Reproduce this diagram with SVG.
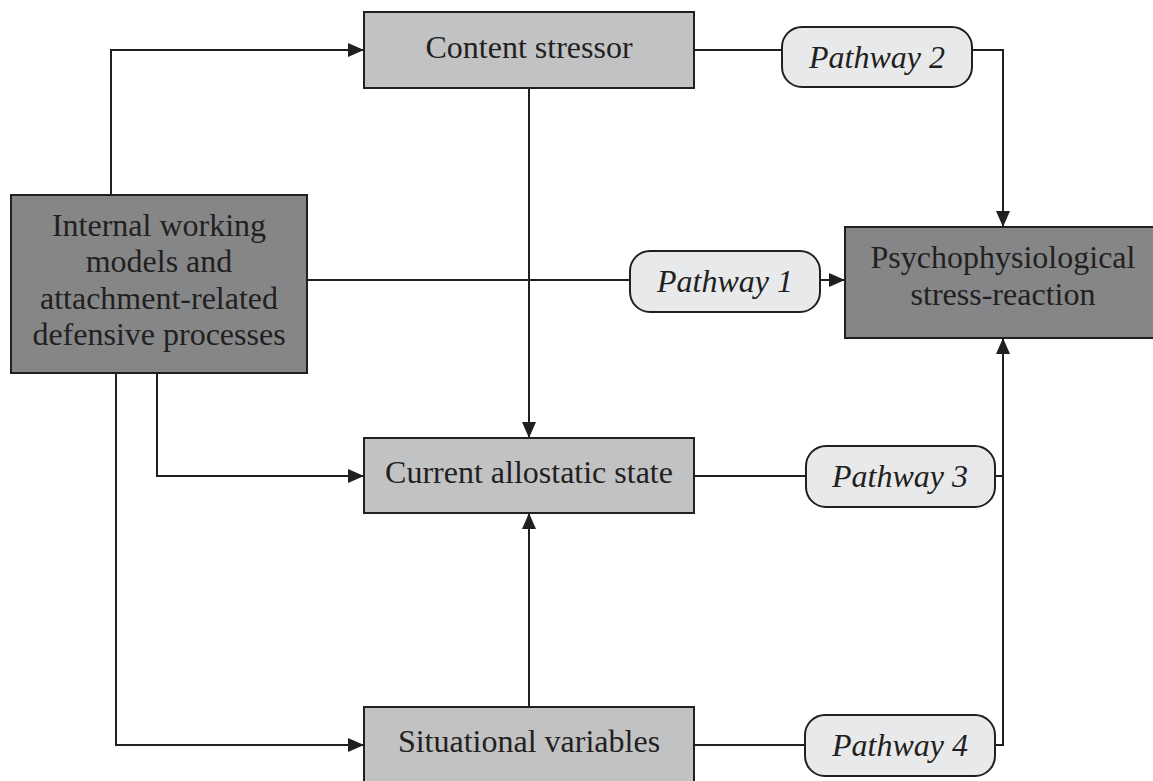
<svg xmlns="http://www.w3.org/2000/svg" width="1153" height="781" viewBox="0 0 1153 781">
<style>
.box{stroke:#231f20;stroke-width:2}
.light{fill:#c1c2c4}
.dark{fill:#858688}
.pill{fill:#e8e9eb;stroke:#231f20;stroke-width:2}
.t{font-family:"Liberation Serif","Times New Roman",serif;font-size:32px;fill:#231f20;text-anchor:middle}
.i{font-style:italic}
.c{fill:none;stroke:#231f20;stroke-width:2}
</style>
<defs>
<marker id="ah" viewBox="0 0 16 14" refX="16" refY="7" markerWidth="16" markerHeight="14" markerUnits="userSpaceOnUse" orient="auto">
<path d="M0,0 L16,7 L0,14 Z" fill="#231f20"/>
</marker>
</defs>
<rect width="1153" height="781" fill="#ffffff"/>
<g id="connectors">
<path class="c" d="M111,195 V50 H364" marker-end="url(#ah)"/>
<path class="c" d="M694,50 H782"/>
<path class="c" d="M972,50 H1003 V227" marker-end="url(#ah)"/>
<path class="c" d="M307,280 H630"/>
<path class="c" d="M820,280 H845" marker-end="url(#ah)"/>
<path class="c" d="M529,88 V438" marker-end="url(#ah)"/>
<path class="c" d="M157,373 V476 H364" marker-end="url(#ah)"/>
<path class="c" d="M116,373 V745 H364" marker-end="url(#ah)"/>
<path class="c" d="M529,707 V513" marker-end="url(#ah)"/>
<path class="c" d="M694,476 H806"/>
<path class="c" d="M694,745 H805"/>
<path class="c" d="M995,476 H1003"/>
<path class="c" d="M995,745 H1003 V338" marker-end="url(#ah)"/>
</g>
<g id="content-stressor">
<rect class="box light" x="364" y="12" width="330" height="76"/>
<text class="t" x="529" y="58">Content stressor</text>
</g>
<g id="internal-working-models">
<rect class="box dark" x="11" y="195" width="296" height="178"/>
<text class="t" x="159" y="236">Internal working</text>
<text class="t" x="159" y="272">models and</text>
<text class="t" x="159" y="309">attachment-related</text>
<text class="t" x="159" y="345">defensive processes</text>
</g>
<g id="psychophysiological">
<rect class="box dark" x="845" y="227" width="320" height="111"/>
<text class="t" x="1003" y="268">Psychophysiological</text>
<text class="t" x="1003" y="305">stress-reaction</text>
</g>
<g id="current-allostatic-state">
<rect class="box light" x="364" y="438" width="330" height="75"/>
<text class="t" x="529" y="483">Current allostatic state</text>
</g>
<g id="situational-variables">
<rect class="box light" x="364" y="707" width="330" height="90"/>
<text class="t" x="529" y="752">Situational variables</text>
</g>
<g id="pathway-1">
<rect class="pill" x="630" y="251" width="190" height="61" rx="20" ry="20"/>
<text class="t i" x="725" y="292">Pathway 1</text>
</g>
<g id="pathway-2">
<rect class="pill" x="782" y="27" width="190" height="60" rx="20" ry="20"/>
<text class="t i" x="877" y="68">Pathway 2</text>
</g>
<g id="pathway-3">
<rect class="pill" x="806" y="446" width="189" height="61" rx="20" ry="20"/>
<text class="t i" x="900" y="487">Pathway 3</text>
</g>
<g id="pathway-4">
<rect class="pill" x="805" y="715" width="190" height="61" rx="20" ry="20"/>
<text class="t i" x="900" y="756">Pathway 4</text>
</g>
</svg>
